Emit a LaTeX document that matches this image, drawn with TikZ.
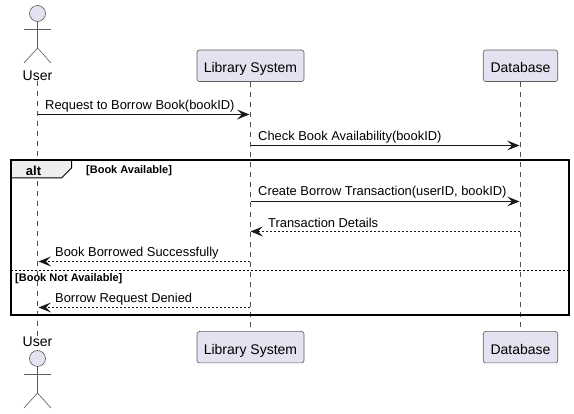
\documentclass[tikz,border=0pt]{standalone}
\usepackage{fontspec}
\setmainfont{Liberation Sans}
\usetikzlibrary{arrows.meta}
\definecolor{partfill}{HTML}{E2E2F0}
\definecolor{partline}{HTML}{181818}
\definecolor{tabfill}{HTML}{EEEEEE}
\tikzset{
  part/.style={draw=partline!70,line width=0.6pt,fill=partfill,rounded corners=2.5pt,minimum height=31.5pt,inner xsep=0pt,inner ysep=0pt,text height=14pt,text depth=0pt,font=\fontsize{14}{16}\selectfont},
  actorname/.style={inner sep=0pt,font=\fontsize{14}{16}\selectfont},
  actorline/.style={draw=partline!70,line width=0.6pt},
  lifeline/.style={draw=partline!75,line width=0.5pt,dash pattern=on 5pt off 5pt},
  msg/.style={draw=partline,line width=0.8pt,-{Stealth[length=12.5pt,width=10pt,inset=5pt,line width=0pt]}},
  reply/.style={msg,dash pattern=on 2pt off 2pt},
  msgtext/.style={anchor=west,inner sep=0pt,font=\fontsize{12.9}{15}\selectfont},
  guard/.style={anchor=west,inner sep=0pt,font=\fontsize{11}{13}\selectfont\bfseries}
}
\begin{document}
\begin{tikzpicture}[x=1pt,y=-1pt,line cap=butt,line join=round]
      \useasboundingbox (0,0) rectangle (574,414);
      % participants
      \node[actorname] (userTop) at (37.5,75.5) {User};
      \node[actorname] (userBot) at (37.5,341.5) {User};
      \node[part,minimum width=107pt] (libTop) at (250.5,65.8) {Library System};
      \node[part,minimum width=107pt] (libBot) at (250.5,347.2) {Library System};
      \node[part,minimum width=74.5pt] (dbTop) at (520.5,65.8) {Database};
      \node[part,minimum width=74.5pt] (dbBot) at (520.5,347.2) {Database};
      % lifelines
      \draw[lifeline] (userTop.south) -- (userBot.north);
      \draw[lifeline] (libTop.south) -- (libBot.north);
      \draw[lifeline] (dbTop.south) -- (dbBot.north);
      % actors
      \foreach \y in {13.5,358.5} {
        \draw[actorline,fill=partfill] (37.5,\y) circle (8);
        \draw[actorline] (37.5,\y+8) -- (37.5,\y+34.5);
        \draw[actorline] (24,\y+15.5) -- (51,\y+15.5);
        \draw[actorline] (24,\y+49.5) -- (37.5,\y+34.5) -- (51,\y+49.5);
      }
      % points on the lifelines
      \coordinate (u1) at (37.5,114.5);
      \coordinate (l1) at (249.5,114.5);
      \coordinate (l2) at (250.5,145.5);
      \coordinate (d2) at (519.5,145.5);
      \coordinate (l3) at (250.5,201.5);
      \coordinate (d3) at (519.5,201.5);
      \coordinate (d4) at (519.5,231.5);
      \coordinate (l4) at (250.5,231.5);
      \coordinate (l5) at (249.5,261.5);
      \coordinate (u5) at (38.5,261.5);
      \coordinate (l6) at (249.5,307.5);
      \coordinate (u6) at (38.5,307.5);
      % alt frame
      \coordinate (frameA) at (10.5,160.5);
      \coordinate (frameB) at (568.5,315.5);
      \fill[tabfill] (10.5,160.5) -- (71.5,160.5) -- (71.5,168) -- (61.5,178) -- (10.5,178) -- cycle;
      \draw[line width=1pt] (71.5,160.5) -- (71.5,168) -- (61.5,178) -- (10.5,178);
      \draw[line width=2pt,line join=miter] (frameA) rectangle (frameB);
      \draw[line width=0.7pt,dash pattern=on 2pt off 2pt] (10.5,270.5) -- (568.5,270.5);
      \node[inner sep=0pt,font=\fontsize{13}{15}\selectfont\bfseries] (altname) at (33.5,171) {alt};
      \node[guard] (guardA) at (86,170.5) {[Book Available]};
      \node[guard] (guardB) at (15,278.5) {[Book Not Available]};
      % messages
      \draw[msg] (u1) -- (l1);
      \node[msgtext] (m1) at (45,106) {Request to Borrow Book(bookID)};
      \draw[msg] (l2) -- (d2);
      \node[msgtext] (m2) at (258,137) {Check Book Availability(bookID)};
      \draw[msg] (l3) -- (d3);
      \node[msgtext] (m3) at (258,192.5) {Create Borrow Transaction(userID, bookID)};
      \draw[reply] (d4) -- (l4);
      \node[msgtext] (m4) at (268,223) {Transaction Details};
      \draw[reply] (l5) -- (u5);
      \node[msgtext] (m5) at (55,253.5) {Book Borrowed Successfully};
      \draw[reply] (l6) -- (u6);
      \node[msgtext] (m6) at (55,299) {Borrow Request Denied};
\end{tikzpicture}
\end{document}
